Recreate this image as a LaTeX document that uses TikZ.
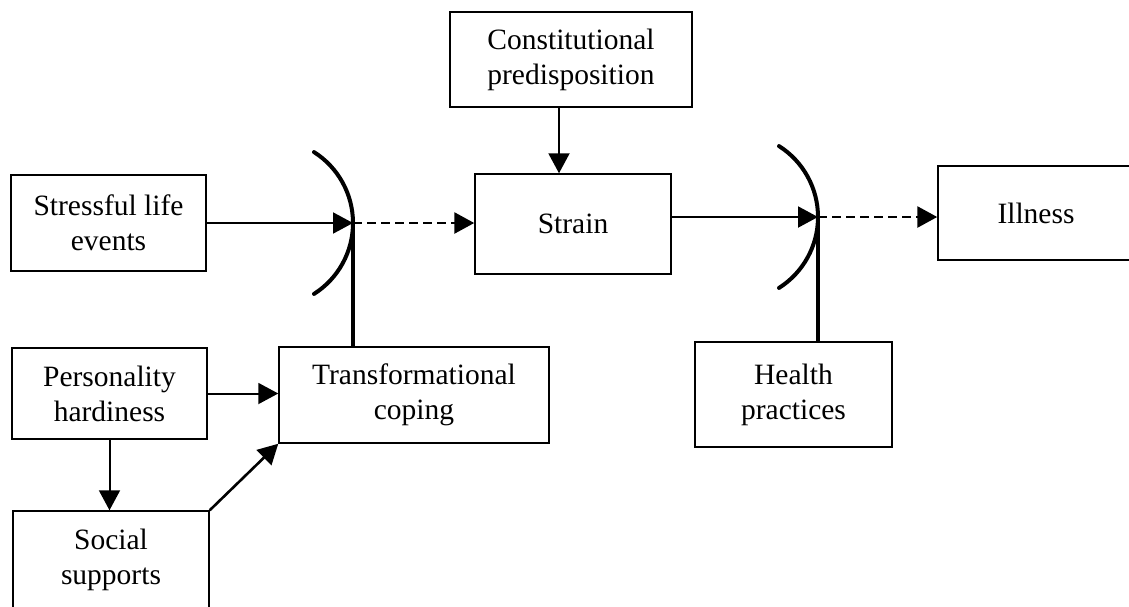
\documentclass[tikz,border=0pt]{standalone}
\usepackage{fontspec}
\setmainfont{Liberation Serif}
\usetikzlibrary{arrows.meta,calc}
\begin{document}
\begin{tikzpicture}[x=1pt,y=-1pt,
  box/.style={draw,line width=1.5pt,inner sep=0pt,align=center,
    font=\fontsize{29.5}{35}\selectfont},
  arr/.style={line width=2pt,-{Triangle[length=20pt,width=21pt]}},
  dasharr/.style={arr,line width=2.8pt,dash pattern=on 9pt off 5pt},
  junc/.style={line width=3.4pt},
  gate/.style={line width=4pt,line cap=round}]
\useasboundingbox (0,0) rectangle (1129,606);
\node[box,minimum width=242pt,minimum height=95pt] (cons) at (571,59.5) {Constitutional\\predisposition};
\node[box,minimum width=196pt,minimum height=100pt] (strain) at (573,224) {Strain};
\node[box,minimum width=195pt,minimum height=96pt] (stress) at (108.5,223) {Stressful life\\events};
\node[box,minimum width=195pt,minimum height=91pt] (pers) at (109.5,393.5) {Personality\\hardiness};
\node[box,minimum width=196pt,minimum height=97pt] (social) at (111,559.5) {Social\\supports};
\node[box,minimum width=270pt,minimum height=96pt] (trans) at (414,395) {Transformational\\coping};
\node[box,minimum width=197pt,minimum height=105pt] (health) at (793.5,394.5) {Health\\practices};
\node[box,minimum width=196pt,minimum height=94pt] (illness) at (1036,213) {Illness};
\coordinate (j1) at (353,223);
\coordinate (j2) at (818,217);
% gates
\draw[gate] (j1) arc[start angle=0,end angle=57.6,radius=84];
\draw[gate] (j1) arc[start angle=0,end angle=-57.6,radius=84];
\draw[gate] (j2) arc[start angle=0,end angle=57.6,radius=84];
\draw[gate] (j2) arc[start angle=0,end angle=-57.6,radius=84];
% junction stems
\draw[junc] (j1 |- trans.north) -- (j1);
\draw[junc] (j2 |- health.north) -- (j2);
% arrows
\draw[arr] (stress.east |- j1) -- (j1);
\draw[dasharr] (j1) -- (j1 -| strain.west);
\draw[arr] ([xshift=-12pt]cons.south) -- ([xshift=-12pt]cons.south |- strain.north);
\draw[arr] (strain.east |- j2) -- (j2);
\draw[dasharr] (j2) -- (j2 -| illness.west);
\draw[arr] (pers.east) -- (pers.east -| trans.west);
\draw[arr] (pers.south) -- (pers.south |- social.north);
\draw[arr,line width=2.6pt] (social.north east) -- (trans.south west);
\end{tikzpicture}
\end{document}
